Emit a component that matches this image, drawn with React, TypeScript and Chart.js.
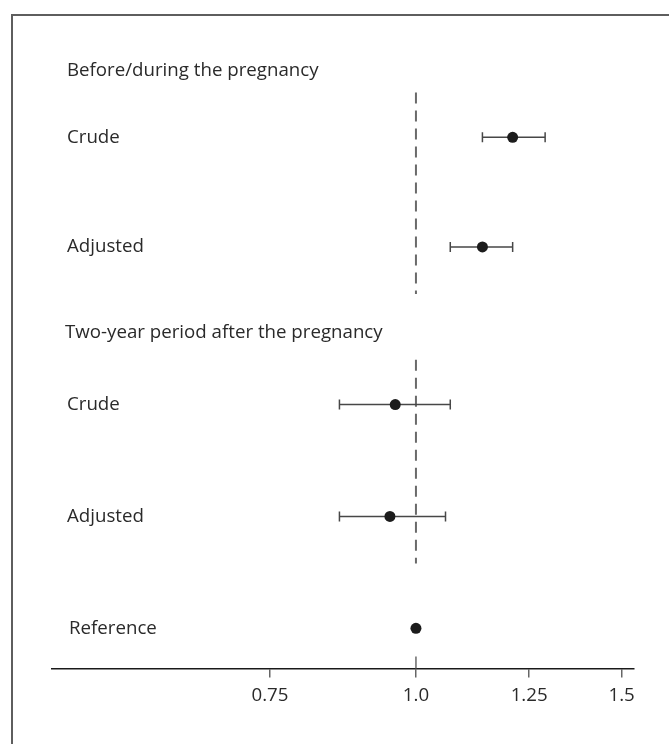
import React, { useEffect, useRef } from "react";
import { Chart, registerables } from "chart.js";
Chart.register(...registerables);

const groupTitles = ["Before/during the pregnancy", "Two-year period after the pregnancy"];
const groupTitlePos = [4.99, 2.64];
const rowLabels = ["Crude", "Adjusted", "Crude", "Adjusted", "Reference"];
const rowGroup = [0, 0, 1, 1, -1];
const rowPos = [4.39, 3.41, 2.0, 1.0, 0.0];
const estimates = [1.21, 1.14, 0.96, 0.95, 1.0];
const lowerCI: (number | null)[] = [1.14, 1.07, 0.86, 0.86, null];
const upperCI: (number | null)[] = [1.29, 1.21, 1.07, 1.06, null];
const tickValues = [0.75, 1.0, 1.25, 1.5];
const tickLabels = ["0.75", "1.0", "1.25", "1.5"];

const FONT = "'Open Sans', 'Noto Sans', sans-serif";
const FONT_SIZE = 18.7;

const forestPlugin = {
  id: "forest",
  beforeDatasetsDraw(chart: any) {
    const ctx = chart.ctx;
    const xs = chart.scales.x;
    const ys = chart.scales.y;
    const x1 = xs.getPixelForValue(1);
    ctx.save();
    groupTitles.forEach((_, g) => {
      const pos = rowPos.filter((_, i) => rowGroup[i] === g);
      const top = ys.getPixelForValue(Math.max(...pos) + 0.4);
      const bot = ys.getPixelForValue(Math.min(...pos) - 0.42);
      ctx.beginPath();
      ctx.setLineDash([11, 7]);
      ctx.strokeStyle = "#6a6a6a";
      ctx.lineWidth = 2;
      ctx.moveTo(x1, top);
      ctx.lineTo(x1, bot);
      ctx.stroke();
    });
    ctx.setLineDash([]);
    const bottom = chart.chartArea.bottom;
    ctx.beginPath();
    ctx.strokeStyle = "#6a6a6a";
    ctx.lineWidth = 1.5;
    ctx.moveTo(x1, bottom - 12);
    ctx.lineTo(x1, bottom);
    ctx.stroke();
    ctx.strokeStyle = "#474747";
    ctx.lineWidth = 1.5;
    estimates.forEach((_, i) => {
      const lo = lowerCI[i];
      const hi = upperCI[i];
      if (lo == null || hi == null) return;
      const yp = ys.getPixelForValue(rowPos[i]);
      const xl = xs.getPixelForValue(lo);
      const xh = xs.getPixelForValue(hi);
      ctx.beginPath();
      ctx.moveTo(xl, yp);
      ctx.lineTo(xh, yp);
      ctx.moveTo(xl, yp - 5);
      ctx.lineTo(xl, yp + 5);
      ctx.moveTo(xh, yp - 5);
      ctx.lineTo(xh, yp + 5);
      ctx.stroke();
    });
    ctx.restore();
  },
  afterDraw(chart: any) {
    const ctx = chart.ctx;
    const ys = chart.scales.y;
    const left = chart.chartArea.left + 15;
    ctx.save();
    ctx.fillStyle = "#2a2a2a";
    ctx.font = `${FONT_SIZE}px ${FONT}`;
    ctx.textAlign = "left";
    ctx.textBaseline = "middle";
    groupTitles.forEach((t, g) => {
      ctx.fillText(t, left - (g === 1 ? 2 : 0), ys.getPixelForValue(groupTitlePos[g]));
    });
    rowLabels.forEach((t, i) => {
      ctx.fillText(t, left + (rowGroup[i] < 0 ? 2 : 0), ys.getPixelForValue(rowPos[i]));
    });
    ctx.restore();
  },
};

export default function App() {
  const ref = useRef<HTMLCanvasElement>(null);
  useEffect(() => {
    if (!ref.current) return;
    const chart = new Chart(ref.current, {
      type: "scatter",
      data: {
        datasets: [
          {
            data: estimates.map((v, i) => ({ x: v, y: rowPos[i] })),
            pointRadius: 5.5,
            pointHoverRadius: 5.5,
            backgroundColor: "#1c1c1c",
            borderColor: "#1c1c1c",
            borderWidth: 0,
          },
        ],
      },
      options: {
        animation: false,
        responsive: false,
        devicePixelRatio: 1,
        layout: { padding: { left: 52, right: 35, top: 40, bottom: 30 } },
        plugins: { legend: { display: false }, tooltip: { enabled: false } },
        scales: {
          x: {
            type: "logarithmic",
            min: 0.488,
            max: 1.537,
            afterBuildTicks: (scale: any) => {
              scale.ticks = tickValues.map((v) => ({ value: v }));
            },
            grid: {
              display: true,
              drawOnChartArea: false,
              drawTicks: true,
              tickLength: 9,
              color: "#666",
              lineWidth: 1.5,
            },
            border: { display: true, color: "#1a1a1a", width: 1.5 },
            ticks: {
              autoSkip: false,
              maxRotation: 0,
              padding: 7,
              color: "#2a2a2a",
              font: { family: FONT, size: FONT_SIZE },
              callback: (v: any) => {
                const idx = tickValues.findIndex((t) => Math.abs(t - Number(v)) < 1e-9);
                return idx >= 0 ? tickLabels[idx] : "";
              },
            },
          },
          y: {
            type: "linear",
            display: false,
            min: -0.36,
            max: 5.26,
          },
        },
      },
      plugins: [forestPlugin],
    });
    return () => chart.destroy();
  }, []);

  return (
    <div style={{ position: "absolute", left: 0, top: 0, width: 669, height: 744, background: "#fff" }}>
      <canvas ref={ref} width={669} height={744} style={{ position: "absolute", left: 0, top: 0 }} />
      <div
        style={{
          position: "absolute",
          left: 11,
          top: 14,
          right: 0,
          bottom: 0,
          borderTop: "2px solid #5e5e5e",
          borderLeft: "2px solid #5e5e5e",
          pointerEvents: "none",
        }}
      />
    </div>
  );
}
